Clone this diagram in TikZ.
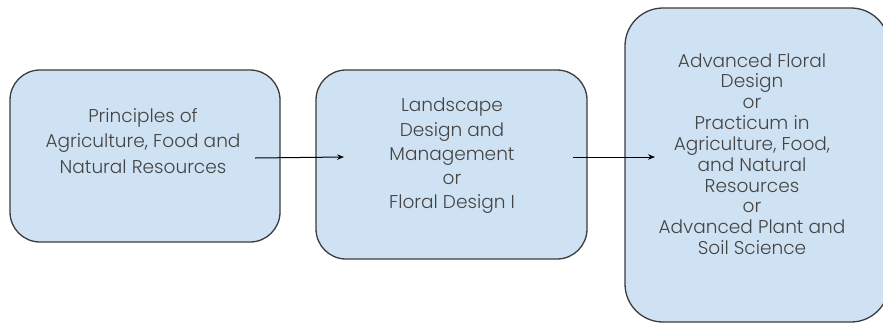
\documentclass[tikz,border=0pt]{standalone}
\usepackage{fontspec}
\setmainfont{Poppins Light}
\usetikzlibrary{arrows.meta}
\definecolor{boxfill}{HTML}{CFE2F3}
\definecolor{boxline}{HTML}{3C3C3C}
\definecolor{txt}{HTML}{444444}
\begin{document}
\begin{tikzpicture}[x=1bp,y=-1bp,
  box/.style={draw=boxline, fill=boxfill, line width=1.3bp, rounded corners=#1},
  box/.default=30bp,
  lbl/.style={align=center, text=txt, inner sep=0pt},
  conn/.style={draw=black, line width=1bp, -{Stealth[length=7bp,width=5.5bp]}}]
\useasboundingbox (0,0) rectangle (883,324);
\begin{scope}
\clip (0,0) rectangle (883,324);
% boxes
\draw[box] (10,70) rectangle (280,242);
\node[coordinate] (b1) at (145,156) {};
\draw[box] (316,70) rectangle (587,259);
\node[coordinate] (b2) at (451,164) {};
\draw[box=38bp] (625,8) rectangle (889,322);
\node[coordinate] (b3) at (757,165) {};
\end{scope}
% texts
\node[lbl, font=\fontsize{18.6}{25.5}\selectfont] (t1) at (143,141) {Principles of\\Agriculture, Food and\\Natural Resources};
\node[lbl, font=\fontsize{18.6}{24.3}\selectfont] (t2) at (452,156) {Landscape\\Design and\\Management\\or\\Floral Design I};
\node[lbl, font=\fontsize{18.6}{20.9}\selectfont] (t3) at (752,154) {Advanced Floral\\Design\\or\\Practicum in\\Agriculture, Food,\\and Natural\\Resources\\or\\Advanced Plant and\\Soil Science};
% connectors
\coordinate (a1s) at (255,158);
\coordinate (a1e) at (344,157);
\coordinate (a2s) at (573,157);
\coordinate (a2e) at (655,157);
\draw[conn] (a1s) -- (a1e);
\draw[conn] (a2s) -- (a2e);
\end{tikzpicture}
\end{document}
